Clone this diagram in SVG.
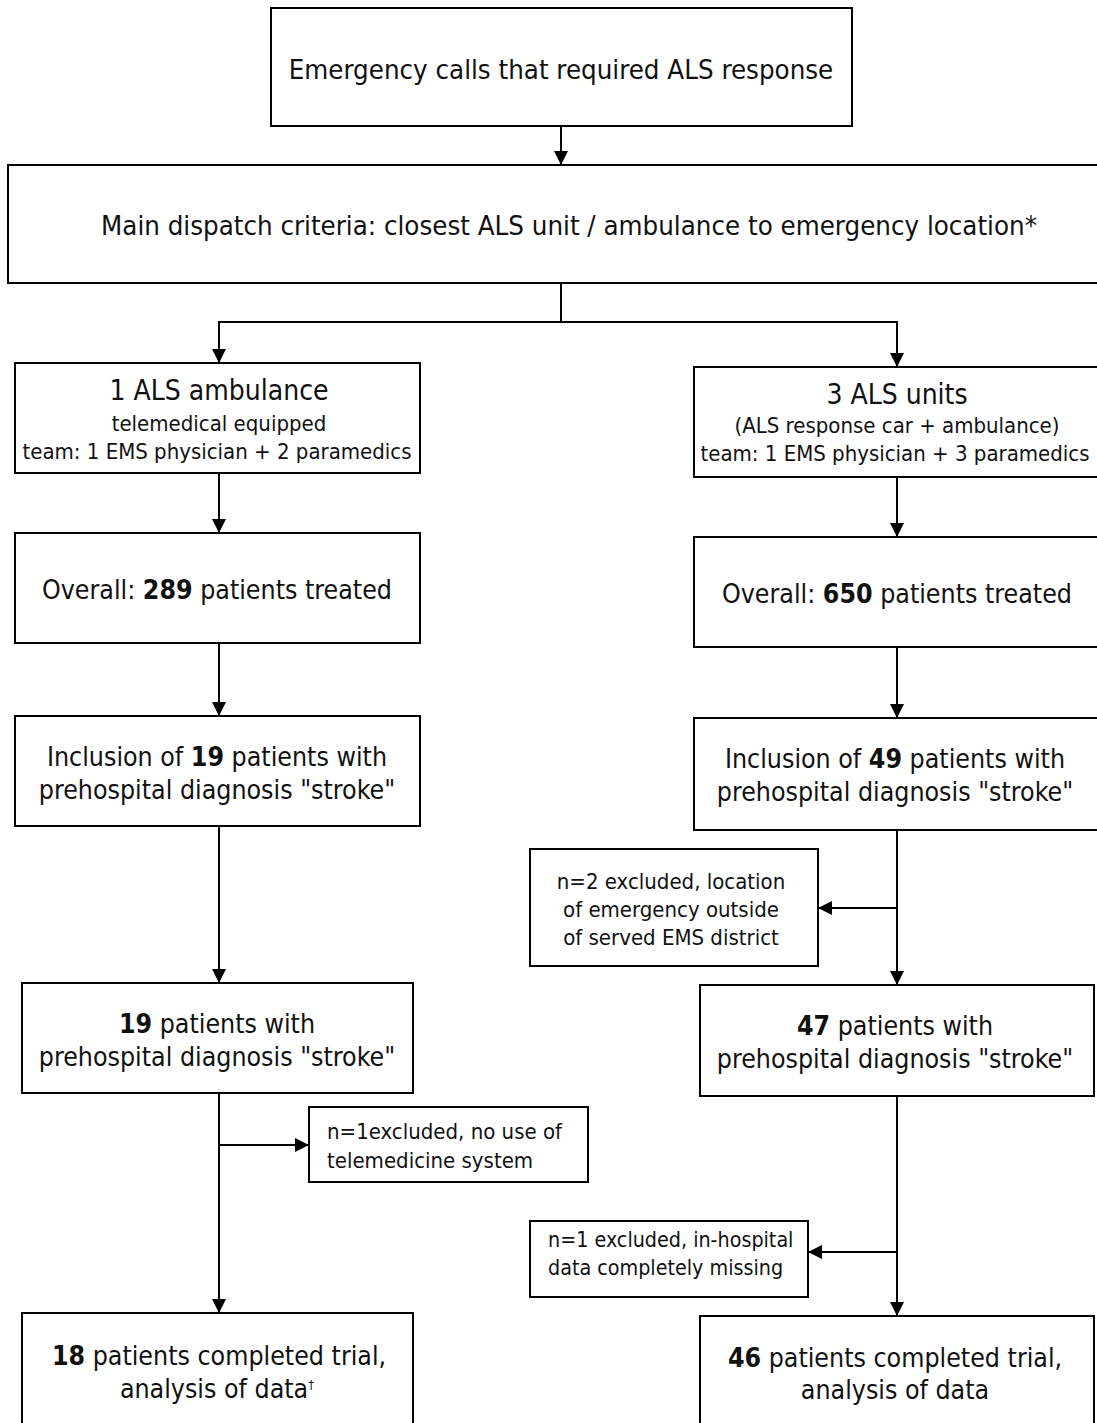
<svg xmlns="http://www.w3.org/2000/svg" width="1097" height="1423" viewBox="0 0 1097 1423">
<defs>
<marker id="ah" viewBox="0 0 14 14" refX="14" refY="7" markerWidth="14" markerHeight="14" markerUnits="userSpaceOnUse" orient="auto">
<path d="M0,0 L14,7 L0,14 z" fill="#000"/>
</marker>
<style>
.box{fill:#fff;stroke:#000;stroke-width:2}
.t{font-family:"DejaVu Sans Condensed","DejaVu Sans",sans-serif;fill:#111;text-anchor:middle}
.st{text-anchor:start}
.x{font-size:27.4px}
.l{font-size:26.5px}
.h{font-size:28px}
.m{font-size:22px}
.s{font-size:22px}
.c{fill:none;stroke:#000;stroke-width:2}
</style>
</defs>
<rect width="1097" height="1423" fill="#fff"/>
<g id="connectors">
<path class="c" d="M561,126 V165" marker-end="url(#ah)"/>
<path class="c" d="M561,283 V322 M219,322 H897"/>
<path class="c" d="M219,321 V363" marker-end="url(#ah)"/>
<path class="c" d="M897,321 V367" marker-end="url(#ah)"/>
<path class="c" d="M219,473 V533" marker-end="url(#ah)"/>
<path class="c" d="M897,477 V537" marker-end="url(#ah)"/>
<path class="c" d="M219,643 V716" marker-end="url(#ah)"/>
<path class="c" d="M897,647 V718" marker-end="url(#ah)"/>
<path class="c" d="M219,826 V983" marker-end="url(#ah)"/>
<path class="c" d="M897,830 V985" marker-end="url(#ah)"/>
<path class="c" d="M897,908 H818" marker-end="url(#ah)"/>
<path class="c" d="M219,1093 V1313" marker-end="url(#ah)"/>
<path class="c" d="M219,1145 H309" marker-end="url(#ah)"/>
<path class="c" d="M897,1096 V1316" marker-end="url(#ah)"/>
<path class="c" d="M897,1252 H808" marker-end="url(#ah)"/>
</g>
<g id="n1"><rect class="box" x="271" y="8" width="581" height="118"/>
<text class="t x" x="561" y="79">Emergency calls that required ALS response</text></g>
<g id="n2"><rect class="box" x="8" y="165" width="1095" height="118"/>
<text class="t x" x="569" y="235">Main dispatch criteria: closest ALS unit / ambulance to emergency location*</text></g>
<g id="n3"><rect class="box" x="15" y="363" width="405" height="110"/>
<text class="t h" x="219" y="400">1 ALS ambulance</text>
<text class="t m" x="219" y="431">telemedical equipped</text>
<text class="t m" x="217" y="459">team: 1 EMS physician + 2 paramedics</text></g>
<g id="n4"><rect class="box" x="694" y="367" width="410" height="110"/>
<text class="t h" x="897" y="404">3 ALS units</text>
<text class="t m" x="897" y="433">(ALS response car + ambulance)</text>
<text class="t m" x="895" y="461">team: 1 EMS physician + 3 paramedics</text></g>
<g id="n5"><rect class="box" x="15" y="533" width="405" height="110"/>
<text class="t l" x="217" y="599">Overall: <tspan font-weight="bold">289</tspan> patients treated</text></g>
<g id="n6"><rect class="box" x="694" y="537" width="410" height="110"/>
<text class="t l" x="897" y="603">Overall: <tspan font-weight="bold">650</tspan> patients treated</text></g>
<g id="n7"><rect class="box" x="15" y="716" width="405" height="110"/>
<text class="t l" x="217" y="766">Inclusion of <tspan font-weight="bold">19</tspan> patients with</text>
<text class="t l" x="217" y="799">prehospital diagnosis "stroke"</text></g>
<g id="n8"><rect class="box" x="694" y="718" width="410" height="112"/>
<text class="t l" x="895" y="768">Inclusion of <tspan font-weight="bold">49</tspan> patients with</text>
<text class="t l" x="895" y="801">prehospital diagnosis "stroke"</text></g>
<g id="n9"><rect class="box" x="530" y="849" width="288" height="117"/>
<text class="t s" x="671" y="889">n=2 excluded, location</text>
<text class="t s" x="671" y="917">of emergency outside</text>
<text class="t s" x="671" y="945">of served EMS district</text></g>
<g id="n10"><rect class="box" x="22" y="983" width="391" height="110"/>
<text class="t l" x="217" y="1033"><tspan font-weight="bold">19</tspan> patients with</text>
<text class="t l" x="217" y="1066">prehospital diagnosis "stroke"</text></g>
<g id="n11"><rect class="box" x="700" y="985" width="394" height="111"/>
<text class="t l" x="895" y="1035"><tspan font-weight="bold">47</tspan> patients with</text>
<text class="t l" x="895" y="1068">prehospital diagnosis "stroke"</text></g>
<g id="n12"><rect class="box" x="309" y="1107" width="279" height="75"/>
<text class="t s st" x="327" y="1139">n=1excluded, no use of</text>
<text class="t s st" x="327" y="1168">telemedicine system</text></g>
<g id="n13"><rect class="box" x="530" y="1221" width="278" height="76"/>
<text class="t st" font-size="21.3" x="548" y="1247">n=1 excluded, in-hospital</text>
<text class="t st" font-size="21.3" x="548" y="1275">data completely missing</text></g>
<g id="n14"><rect class="box" x="22" y="1313" width="391" height="115"/>
<text class="t l" x="219" y="1365"><tspan font-weight="bold">18</tspan> patients completed trial,</text>
<text class="t l" x="217" y="1398">analysis of data<tspan font-size="13" dy="-9">†</tspan></text></g>
<g id="n15"><rect class="box" x="700" y="1316" width="394" height="112"/>
<text class="t l" x="895" y="1367"><tspan font-weight="bold">46</tspan> patients completed trial,</text>
<text class="t l" x="895" y="1399">analysis of data</text></g>
</svg>
